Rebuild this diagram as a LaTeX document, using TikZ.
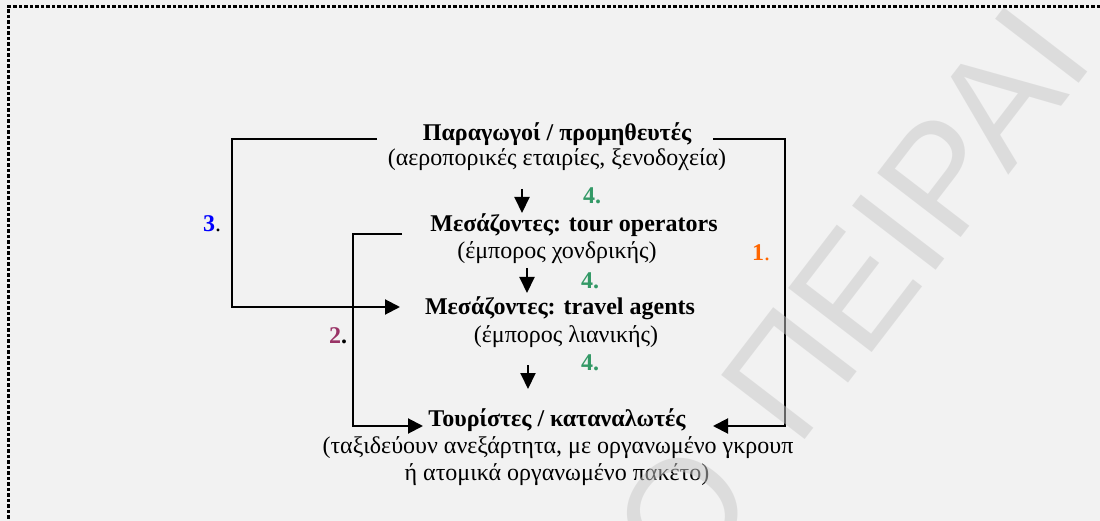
\documentclass[tikz,border=0pt]{standalone}
\usepackage{fontspec}
\setmainfont{Liberation Serif}
\newfontfamily\wmfont{Liberation Sans}
\usetikzlibrary{arrows.meta}
\definecolor{pagebg}{HTML}{F2F2F2}
\definecolor{stepgreen}{HTML}{339966}
\definecolor{pathblue}{HTML}{0000FF}
\definecolor{pathplum}{HTML}{993366}
\definecolor{pathorange}{HTML}{FF6600}
\definecolor{wmgray}{HTML}{C8C8C8}
\tikzset{
  txt/.style={font=\fontsize{24}{28}\selectfont, inner sep=0pt, anchor=base},
  head/.style={txt, font=\fontsize{24}{28}\selectfont\bfseries},
  stepnum/.style={txt, anchor=base west, text=stepgreen, font=\fontsize{24}{28}\selectfont\bfseries},
  pathnum/.style={txt, anchor=base west},
  arr/.style={line width=2pt, -{Triangle[length=15pt,width=15pt]}},
  downarr/.style={line width=2pt, -{Triangle[length=16pt,width=15pt]}},
}
\begin{document}
\begin{tikzpicture}[x=1pt,y=-1pt]
  \useasboundingbox (0,0) rectangle (1100,521);
  \fill[pagebg] (0,0) rectangle (1100,521);
  \clip (0,0) rectangle (1100,521);

  % dotted frame (top and left edges)
  \draw[line width=3.3pt, dash pattern=on 3.3pt off 2.2pt] (1100,6.7) -- (8.3,6.7) -- (8.3,521);

  % supply chain levels
  \node[head] (p1) at (557,141) {Παραγωγοί / προμηθευτές};
  \node[txt]  (p2) at (557,166) {(αεροπορικές εταιρίες, ξενοδοχεία)};
  \node[head] (t1) at (574,232) {Μεσάζοντες: tour operators};
  \node[txt]  (t2) at (557,259) {(έμπορος χονδρικής)};
  \node[head] (a1) at (560,315) {Μεσάζοντες: travel agents};
  \node[txt]  (a2) at (566,342) {(έμπορος λιανικής)};
  \node[head] (c1) at (557,426) {Τουρίστες / καταναλωτές};
  \node[txt]  (c2) at (558,453) {(ταξιδεύουν ανεξάρτητα, με οργανωμένο γκρουπ};
  \node[txt]  (c3) at (557,480) {ή ατομικά οργανωμένο πακέτο)};

  % step labels
  \node[stepnum] (s1) at (583,204) {4.};
  \node[stepnum] (s2) at (581,289) {4.};
  \node[stepnum] (s3) at (581,370) {4.};

  % route labels
  \node[pathnum] (r3) at (203,232) {\textbf{\textcolor{pathblue}{3}}.};
  \node[pathnum] (r2) at (329,343) {\textbf{\textcolor{pathplum}{2}.}};
  \node[pathnum, text=pathorange] (r1) at (752,261) {\textbf{1}.};

  % direct flow downwards
  \draw[downarr] ([shift={(-35,23)}]p2.base) -- ([shift={(-52,-19)}]t1.base);
  \draw[downarr] ([shift={(-30,9)}]t2.base) -- ([shift={(-33,-22)}]a1.base);
  \draw[downarr] ([shift={(-38,23)}]a2.base) -- ([shift={(-29,-37)}]c1.base);

  % route 3: producers to travel agents
  \draw[arr] ([shift={(-180,-2)}]p1.base) -- ++(-145,0) |- ([shift={(-160,-8)}]a1.base);
  % route 2: tour operators to tourists
  \draw[arr] ([shift={(-172,2)}]t1.base) -- ++(-49,0) |- ([shift={(-134,0)}]c1.base);
  % route 1: producers to tourists
  \draw[arr] ([shift={(156,-2)}]p1.base) -- ++(72,0) |- ([shift={(156,0)}]c1.base);

  % watermark
  \node[anchor=base west, inner sep=0pt, rotate=52.5, text=wmgray, text opacity=0.5,
        font=\wmfont\fontsize{153}{153}\selectfont] (wm) at (688,593) {Ο\hspace{0.40em}ΠΕΙΡΑΙ};
\end{tikzpicture}
\end{document}
